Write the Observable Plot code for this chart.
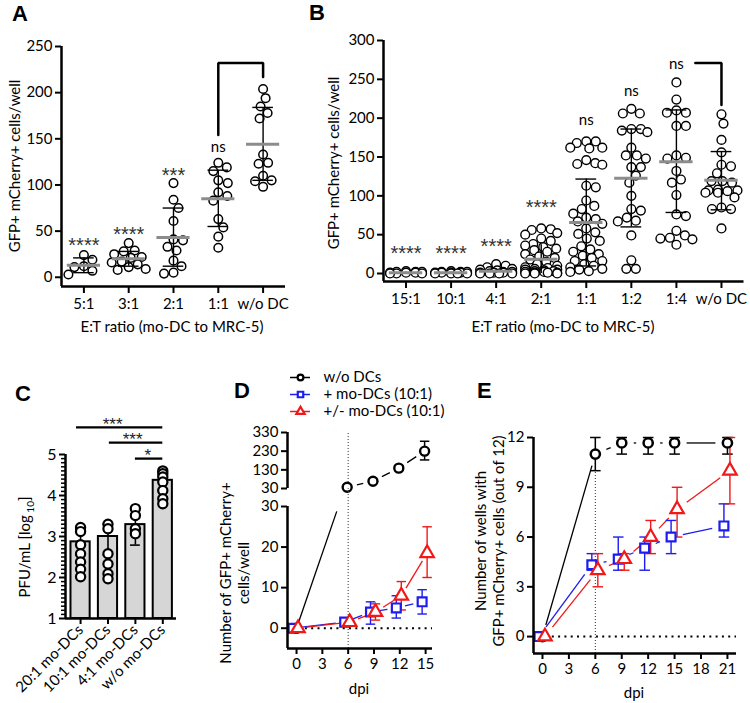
<!DOCTYPE html>
<html><head><meta charset="utf-8">
<script src="https://cdn.jsdelivr.net/npm/d3@7"></script>
<script src="https://cdn.jsdelivr.net/npm/@observablehq/plot@0.6"></script>
<style>
body{margin:0;background:#fff;}
#root{position:relative;width:750px;height:703px;overflow:hidden;font-family:Lato,"Open Sans",sans-serif;color:#000;}
.letter{position:absolute;font-family:"Liberation Sans",Arial,sans-serif;font-weight:bold;font-size:22px;line-height:22px;}
.lab{position:absolute;white-space:nowrap;font-size:15px;line-height:18px;text-align:center;transform:translate(-50%,-50%);}
.rot{transform:translate(-50%,-50%) rotate(-90deg);}
</style></head><body><div id="root"></div>
<script>
// ---------- DATA ----------
// Panel A
const catsA = ["5:1","3:1","2:1","1:1","w/o DC"];
const a5to1 = [24,19,12,11,3,7];
const a3to1 = [37,29,28,25,22,21,17,16,14,11,9,8];
const a2to1 = [102,84,75,61,41,40,33,29,18,12,5,4];
const a1to1 = [124,119,115,105,102,92,88,83,63,54,44,32];
const aNoDC = [204,194,185,178,172,133,124,123,110,105,104,98];
const meanA = [13,20,43,85,144];
const sdLoA = [5,12,12,55,105];
const sdHiA = [21,28,75,116,184];
const sigTextA = ["****","****","***","ns"];
const sigYA = [41,53,117,141];
const bracketXA = [3,3,4,4];
const bracketYA = [154,232,232,217];
const ticksA = [0,50,100,150,200,250];

// Panel B
const catsB = ["15:1","10:1","4:1","2:1","1:1","1:2","1:4","w/o DC"];
const b15to1 = [0,1,2,3,1,2,0,1,0,2];
const b10to1 = [0,1,2,1,0,2,1,3,0,1,0,2];
const b4to1 = [12,10,8,6,5,4,3,2,2,1,1,1,0,0,0,0];
const b2to1 = [58,57,56,52,50,45,42,38,36,34,32,30,28,25,22,20,18,15,12,10,8,6,5,4,3,2,1,0,0,1,2,3,5,7,0,1];
const b1to1 = [170,168,170,162,161,162,146,141,140,142,113,111,94,83,87,77,72,67,64,51,53,42,31,23,25,16,12,16,8,3,2,6,35,28,20,10,5,45,58,70];
const b1to2 = [206,206,212,186,182,186,184,162,152,152,148,137,137,126,117,100,83,81,72,68,67,49,17,6,6];
const b1to4 = [246,224,207,210,207,190,190,152,148,149,132,121,117,101,74,76,45,55,49,37,46,44];
const bNoDC = [205,193,172,156,140,138,129,117,119,119,107,107,104,108,98,104,83,83,85,58,106];
const meanB = [1,1,3,18.5,65.7,122.5,144,120];
const sdLoB = [0,0,0,0,9.7,60,78.6,82];
const sdHiB = [2,2,6,37,121.6,186,210.6,157];
const sigTextB = ["****","****","****","****","ns","ns","ns"];
const sigYB = [33,33,42,92,197,235,270];
const bracketXB = [6.42,7,7];
const bracketYB = [271,271,217];
const ticksB = [0,50,100,150,200,250,300];

// Panel C
const catsC = ["20:1 mo-DCs","10:1 mo-DCs","4:1 mo-DCs","w/o mo-DCs"];
const c20to1 = [3.22,3.12,2.8,2.58,2.38,2.2,2.02];
const c10to1 = [3.3,3.19,2.58,2.33,2.09,1.97];
const c4to1 = [3.68,3.51,3.19,3.07];
const cNoDC = [4.6,4.53,4.45,4.33,4.12,3.92,3.8];
const meanC = [2.87,3.0,3.29,4.37];
const sdLoC = [2.55,2.55,2.79,4.12];
const sdHiC = [3.18,3.3,3.68,4.58];
const sigFromC = [-0.15,1.05,2];
const sigToC = [3,3,3];
const sigLineYC = [5.66,5.29,4.9];
const sigTextC = ["***","***","*"];
const sigTextXC = [1.17,1.9,2.45];
const ticksC = [1,2,3,4,5];

// Panel D
const dpiD = [0,6,9,12,15];
const dNoMean = [0,37,69,139,230], dNoLo = [0,33,64,126,183], dNoHi = [0,41,74,152,283];
const dPlusMean = [0,1.5,4,5,6.5], dPlusLo = [0,1,1,2.5,3.5], dPlusHi = [0,2,6.5,8,9.5];
const dPmMean = [0,1.5,4,8,18.5], dPmLo = [0,1,2,4.5,12.5], dPmHi = [0,2,6,11.5,25];
const ticksDUpper = [30,130,230,330];
const ticksDLower = [0,10,20,30];
const ticksDX = [0,3,6,9,12,15];

// Panel E
const dpiE = [0,6,9,12,15,21];
const eNoMean = [0,11,11.67,11.67,11.67,11.67], eNoLo = [0,10,11,11,11,11], eNoHi = [0,12,12,12,12,12];
const ePlusMean = [0,4.33,4.67,5.33,6,6.67], ePlusLo = [0,4,4,4,5,6], ePlusHi = [0,5,6,6,7,8];
const ePmMean = [0,4,4.67,6,7.67,10], ePmLo = [0,3,4,5,6,8], ePmHi = [0,5,5,7,9,12];
const ticksEY = [0,3,6,9,12];
const ticksEX = [0,3,6,9,12,15,18,21];

// Legend
const legendLabels = ["w/o DCs","+ mo-DCs (10:1)","+/- mo-DCs (10:1)"];
const legendColors = ["#000000","#1c1cf0","#f01818"];
const legendSymbols = ["circle","square","triangle"];

// ---------- HELPERS ----------
const FONT = "Lato, 'Open Sans', sans-serif";
const STARFONT = "'Liberation Sans', Arial, sans-serif";
const FS = 15;
const root = document.getElementById("root");
const BLUE = legendColors[1], RED = legendColors[2];

function place(left, top, opts) {
  const svg = Plot.plot({...opts, style: {background: "transparent", overflow: "visible", fontFamily: FONT, fontSize: FS + "px", maxWidth: "none"}});
  svg.style.position = "absolute"; svg.style.left = left + "px"; svg.style.top = top + "px";
  root.appendChild(svg);
  return svg;
}
function html(cls, left, top, inner) {
  const d = document.createElement("div");
  d.className = cls; d.style.left = left + "px"; d.style.top = top + "px"; d.innerHTML = inner;
  root.appendChild(d);
}
function lin(domain, range) { return Plot.scale({x: {type: "linear", domain, range}}); }

// beeswarm layout: returns points with x in category units
function swarm(vals, ci, yPx, xPx, sep, cap) {
  const placed = [], out = [];
  const order = vals.map((v, i) => i).sort((a, b) => vals[b] - vals[a]);
  const cands = [0];
  for (let o = 0.5; o <= cap; o += 0.5) cands.push(o, -o);
  for (const i of order) {
    const py = vals[i] * yPx;
    let best = 0, bestScore = Infinity;
    for (const o of cands) {
      let pen = 0;
      for (const p of placed) {
        const d = Math.hypot(p.ox - o, p.py - py);
        if (d < sep) pen += sep - d;
      }
      const score = pen * 10 + Math.abs(o) * 0.3;
      if (score < bestScore) { bestScore = score; best = o; }
    }
    placed.push({ox: best, py});
    out.push({x: ci + best / xPx, y: vals[i]});
  }
  return out;
}

// shortened connecting segments (gap around markers)
function segs(xs, ys, sx, sy, gap) {
  const out = [];
  for (let i = 0; i < xs.length - 1; i++) {
    const x1 = sx.apply(xs[i]), y1 = sy.apply(ys[i]), x2 = sx.apply(xs[i + 1]), y2 = sy.apply(ys[i + 1]);
    const L = Math.hypot(x2 - x1, y2 - y1);
    if (L <= 2 * gap) continue;
    const ux = (x2 - x1) / L, uy = (y2 - y1) / L;
    out.push({x1: sx.invert(x1 + ux * gap), y1: sy.invert(y1 + uy * gap), x2: sx.invert(x2 - ux * gap), y2: sy.invert(y2 - uy * gap)});
  }
  return out;
}
// cut a segment where it reaches yMax (broken axis)
function cutAt(seg, yMax) {
  return seg.map(s => {
    if (s.y2 <= yMax) return s;
    const t = (yMax - s.y1) / (s.y2 - s.y1);
    return {x1: s.x1, y1: s.y1, x2: s.x1 + t * (s.x2 - s.x1), y2: yMax};
  });
}
function errs(xs, lo, hi, w) {
  const bars = [], caps = [];
  xs.forEach((x, i) => {
    if (hi[i] > lo[i]) {
      bars.push({x, y1: lo[i], y2: hi[i]});
      caps.push({x1: x - w, x2: x + w, y: lo[i]}, {x1: x - w, x2: x + w, y: hi[i]});
    }
  });
  return {bars, caps};
}
function errMarks(e, color, dx, sw) {
  return [
    Plot.link(e.bars, {x1: "x", x2: "x", y1: "y1", y2: "y2", stroke: color, strokeWidth: sw, dx}),
    Plot.link(e.caps, {x1: "x1", x2: "x2", y1: "y", y2: "y", stroke: color, strokeWidth: sw, dx})
  ];
}
function sigMarks(texts, ys) {
  const stars = [], ns = [];
  texts.forEach((t, i) => (t === "ns" ? ns : stars).push({x: i, y: ys[i], t}));
  return [
    Plot.text(stars, {x: "x", y: "y", text: "t", fontSize: 20, fontFamily: STARFONT, dy: 6, fill: "#333"}),
    Plot.text(ns, {x: "x", y: "y", text: "t", fontSize: FS, fill: "#000"})
  ];
}
const fmtInt = d => String(d);

// ---------- PANEL A ----------
{
  const W = 290, H = 345, mL = 61, mR = 5, mT = 46, mB = H - 286;
  const xDom = [-0.5, 4.5], yDom = [-10, 250];
  const xPx = (W - mL - mR) / 5, yPx = (H - mB - mT) / 260;
  const groups = [a5to1, a3to1, a2to1, a1to1, aNoDC];
  const pts = groups.flatMap((g, i) => swarm(g, i, yPx, xPx, 9.5, 17));
  const idx = d3.range(5);
  place(0, 0, {
    width: W, height: H, marginLeft: mL, marginRight: mR, marginTop: mT, marginBottom: mB,
    x: {domain: xDom}, y: {domain: yDom},
    marks: [
      Plot.dot(pts, {x: "x", y: "y", r: 4.3, stroke: "black", strokeWidth: 1.5, fill: "white"}),
      Plot.ruleX(idx, {x: d => d, y1: i => sdLoA[i], y2: i => sdHiA[i], strokeWidth: 1.4}),
      Plot.ruleY(idx, {x1: i => i - 0.23, x2: i => i + 0.23, y: i => sdLoA[i], strokeWidth: 1.4}),
      Plot.ruleY(idx, {x1: i => i - 0.23, x2: i => i + 0.23, y: i => sdHiA[i], strokeWidth: 1.4}),
      Plot.ruleY(idx, {x1: i => i - 0.37, x2: i => i + 0.37, y: i => meanA[i], stroke: "#8c8c8c", strokeWidth: 3}),
      ...sigMarks(sigTextA, sigYA),
      Plot.line(bracketXA.map((x, i) => ({x, y: bracketYA[i]})), {x: "x", y: "y", strokeWidth: 2.5, strokeLinejoin: "miter"}),
      Plot.ruleX([xDom[0]], {y1: yDom[0], y2: yDom[1], strokeWidth: 2.5}),
      Plot.ruleY([yDom[0]], {x1: xDom[0], x2: xDom[1], strokeWidth: 2.5}),
      Plot.axisY({ticks: ticksA, tickFormat: fmtInt, tickSize: 6, strokeWidth: 2, tickPadding: 3, fontSize: FS, label: null}),
      Plot.axisX({ticks: idx, tickFormat: i => catsA[i], tickSize: 7, strokeWidth: 2, tickPadding: 5, fontSize: FS, label: null})
    ]
  });
}

// ---------- PANEL B ----------
{
  const L0 = 280, W = 470, H = 345, mL = 103, mR = 6.5, mT = 40, mB = H - 281;
  const xDom = [-0.5, 7.5], yDom = [-10.3, 300];
  const xPx = (W - mL - mR) / 8, yPx = (H - mB - mT) / (yDom[1] - yDom[0]);
  const groups = [b15to1, b10to1, b4to1, b2to1, b1to1, b1to2, b1to4, bNoDC];
  const pts = groups.flatMap((g, i) => swarm(g, i, yPx, xPx, 9.5, 16));
  const idx = d3.range(8);
  place(L0, 0, {
    width: W, height: H, marginLeft: mL, marginRight: mR, marginTop: mT, marginBottom: mB,
    x: {domain: xDom}, y: {domain: yDom},
    marks: [
      Plot.dot(pts, {x: "x", y: "y", r: 4.4, stroke: "black", strokeWidth: 1.4, fill: "white"}),
      Plot.ruleX(idx, {x: d => d, y1: i => sdLoB[i], y2: i => sdHiB[i], strokeWidth: 1.4}),
      Plot.ruleY(idx.filter(i => i > 3), {x1: i => i - 0.23, x2: i => i + 0.23, y: i => sdLoB[i], strokeWidth: 1.4}),
      Plot.ruleY(idx.filter(i => i > 3), {x1: i => i - 0.23, x2: i => i + 0.23, y: i => sdHiB[i], strokeWidth: 1.4}),
      Plot.ruleY(idx, {x1: i => i - 0.37, x2: i => i + 0.37, y: i => meanB[i], stroke: "#8c8c8c", strokeWidth: 3}),
      ...sigMarks(sigTextB, sigYB),
      Plot.line(bracketXB.map((x, i) => ({x, y: bracketYB[i]})), {x: "x", y: "y", strokeWidth: 2.5, strokeLinejoin: "miter"}),
      Plot.ruleX([xDom[0]], {y1: yDom[0], y2: yDom[1], strokeWidth: 2.5}),
      Plot.ruleY([yDom[0]], {x1: xDom[0], x2: xDom[1], strokeWidth: 2.5}),
      Plot.axisY({ticks: ticksB, tickFormat: fmtInt, tickSize: 6, strokeWidth: 2, tickPadding: 3, fontSize: FS, label: null}),
      Plot.axisX({ticks: idx, tickFormat: i => catsB[i], tickSize: 7, strokeWidth: 2, tickPadding: 5, fontSize: FS, label: null})
    ]
  });
}

// ---------- PANEL C ----------
{
  const T0 = 380, W = 200, H = 323, mL = 65, mR = 24, mT = 454 - T0, mB = T0 + H - 618;
  const xDom = [-0.55, 3.5], yDom = [1, 5];
  const groups = [c20to1, c10to1, c4to1, cNoDC];
  const pts = groups.flatMap((g, i) => g.map(v => ({x: i, y: v})));
  const idx = d3.range(4);
  const minor = d3.range(11, 50).map(v => v / 10).filter(v => Math.abs(v - Math.round(v)) > 1e-6);
  place(0, T0, {
    width: W, height: H, marginLeft: mL, marginRight: mR, marginTop: mT, marginBottom: mB,
    x: {domain: xDom}, y: {domain: yDom},
    marks: [
      Plot.rect(idx, {x1: i => i - 0.35, x2: i => i + 0.35, y1: 1, y2: i => meanC[i], fill: "#d6d6d6", stroke: "black", strokeWidth: 2}),
      Plot.ruleX(idx, {x: d => d, y1: i => sdLoC[i], y2: i => sdHiC[i], strokeWidth: 1.6}),
      Plot.ruleY(idx, {x1: i => i - 0.18, x2: i => i + 0.18, y: i => sdLoC[i], strokeWidth: 1.6}),
      Plot.ruleY(idx, {x1: i => i - 0.18, x2: i => i + 0.18, y: i => sdHiC[i], strokeWidth: 1.6}),
      Plot.dot(pts, {x: "x", y: "y", r: 4.6, stroke: "black", strokeWidth: 2.2, fill: "white"}),
      Plot.ruleY(sigLineYC, {x1: (d, i) => sigFromC[i], x2: (d, i) => sigToC[i], y: d => d, strokeWidth: 2.3}),
      Plot.text(sigTextC, {x: (d, i) => sigTextXC[i], y: (d, i) => sigLineYC[i], text: d => d, fontSize: 17, fontFamily: STARFONT, dy: -3, fill: "#222"}),
      Plot.ruleX([xDom[0]], {y1: yDom[0], y2: yDom[1], strokeWidth: 2.5}),
      Plot.ruleY([yDom[0]], {x1: xDom[0], x2: xDom[1], strokeWidth: 2.5}),
      Plot.axisY({ticks: minor, tickSize: 4, strokeWidth: 1.5, tickFormat: () => "", label: null}),
      Plot.axisY({ticks: ticksC, tickFormat: fmtInt, tickSize: 6, strokeWidth: 2, tickPadding: 3, fontSize: 16, label: null}),
      Plot.axisX({ticks: idx, tickFormat: i => catsC[i], tickSize: 6, strokeWidth: 2, tickPadding: 3, tickRotate: -45, fontSize: FS, label: null})
    ]
  });
}

// ---------- PANEL D ----------
{
  const L0 = 240, W = 200, mL = 47, mR = 8;
  const xDom = [-1.05, 15.8];
  const sx = lin(xDom, [mL, W - mR]);
  const DXB = -3.5, DXR = 1.5;
  // upper segment
  {
    const T0 = 423, H = 70, mT = 9, mB = 5;
    const yDom = [30, 330];
    const sy = lin(yDom, [H - mB, mT]);
    const xs = dpiD.slice(1), ys = dNoMean.slice(1);
    place(L0, T0, {
      width: W, height: H, marginLeft: mL, marginRight: mR, marginTop: mT, marginBottom: mB,
      x: {domain: xDom, axis: null}, y: {domain: yDom},
      marks: [
        Plot.ruleX([6], {y1: 30, y2: 330, stroke: "#333", strokeWidth: 1, strokeDasharray: "1,2"}),
        Plot.link(segs(xs, ys, sx, sy, 10), {x1: "x1", y1: "y1", x2: "x2", y2: "y2", stroke: "black", strokeWidth: 1.3, dx: -1}),
        ...errMarks(errs(xs, dNoLo.slice(1), dNoHi.slice(1), 0.55), "black", -1, 1.5),
        Plot.dot(xs.map((x, i) => ({x, y: ys[i]})), {x: "x", y: "y", r: 4.5, stroke: "black", strokeWidth: 2.4, fill: "white", dx: -1}),
        Plot.ruleX([xDom[0]], {y1: yDom[0], y2: yDom[1], strokeWidth: 2.5}),
        Plot.axisY({ticks: ticksDUpper, tickFormat: fmtInt, tickSize: 6, strokeWidth: 2, tickPadding: 3, fontSize: FS, label: null})
      ]
    });
  }
  // lower segment
  {
    const T0 = 495, H = 205, mT = 11, mB = 52;
    const yDom = [-5, 30];
    const sy = lin(yDom, [H - mB, mT]);
    const blackSeg = cutAt(segs(dpiD.slice(0, 2), dNoMean.slice(0, 2), sx, sy, 6), 28.8);
    place(L0, T0, {
      width: W, height: H, marginLeft: mL, marginRight: mR, marginTop: mT, marginBottom: mB,
      x: {domain: xDom}, y: {domain: yDom},
      marks: [
        Plot.ruleX([6], {y1: -5, y2: 34.4, stroke: "#333", strokeWidth: 1, strokeDasharray: "1,2"}),
        Plot.ruleY([0], {x1: 0.3, x2: xDom[1], stroke: "black", strokeWidth: 2, strokeDasharray: "2,4.3"}),
        Plot.link(blackSeg, {x1: "x1", y1: "y1", x2: "x2", y2: "y2", stroke: "black", strokeWidth: 1.3}),
        Plot.link(segs(dpiD, dPlusMean, sx, sy, 9), {x1: "x1", y1: "y1", x2: "x2", y2: "y2", stroke: BLUE, strokeWidth: 1.3, dx: DXB}),
        Plot.link(segs(dpiD, dPmMean, sx, sy, 9), {x1: "x1", y1: "y1", x2: "x2", y2: "y2", stroke: RED, strokeWidth: 1.3, dx: DXR}),
        ...errMarks(errs(dpiD, dPlusLo, dPlusHi, 0.55), BLUE, DXB, 1.4),
        ...errMarks(errs(dpiD, dPmLo, dPmHi, 0.55), RED, DXR, 1.4),
        Plot.dot([{x: dpiD[0], y: dNoMean[0]}], {x: "x", y: "y", r: 4.5, stroke: "black", strokeWidth: 2.4, fill: "white"}),
        Plot.dot(dpiD.map((x, i) => ({x, y: dPlusMean[i]})), {x: "x", y: "y", symbol: "square", r: 5, stroke: BLUE, strokeWidth: 2.2, fill: "white", dx: DXB}),
        Plot.dot(dpiD.map((x, i) => ({x, y: dPmMean[i]})), {x: "x", y: "y", symbol: "triangle", r: 5, stroke: RED, strokeWidth: 2.2, fill: "white", dx: DXR}),
        Plot.ruleX([xDom[0]], {y1: yDom[0], y2: yDom[1], strokeWidth: 2.5}),
        Plot.ruleY([yDom[0]], {x1: xDom[0], x2: xDom[1], strokeWidth: 2.5}),
        Plot.axisY({ticks: ticksDLower, tickFormat: fmtInt, tickSize: 6, strokeWidth: 2, tickPadding: 3, fontSize: FS, label: null}),
        Plot.axisX({ticks: ticksDX, tickFormat: fmtInt, tickSize: 6, strokeWidth: 2, tickPadding: 4, fontSize: FS, label: null})
      ]
    });
  }
}

// ---------- PANEL E ----------
{
  const L0 = 500, T0 = 420, W = 250, H = 280, mL = 33, mR = 14, mT = 17, mB = 47;
  const xDom = [-1.02, 22.03], yDom = [-1.02, 12];
  const sx = lin(xDom, [mL, W - mR]), sy = lin(yDom, [H - mB, mT]);
  const DXB = -3.5, DXR = 2.5;
  place(L0, T0, {
    width: W, height: H, marginLeft: mL, marginRight: mR, marginTop: mT, marginBottom: mB,
    x: {domain: xDom}, y: {domain: yDom},
    marks: [
      Plot.ruleX([6], {y1: yDom[0], y2: 12, stroke: "#333", strokeWidth: 1, strokeDasharray: "1,2"}),
      Plot.ruleY([0], {x1: 0.4, x2: xDom[1], stroke: "black", strokeWidth: 2, strokeDasharray: "2,4.3"}),
      Plot.link(segs(dpiE, eNoMean, sx, sy, 12), {x1: "x1", y1: "y1", x2: "x2", y2: "y2", stroke: "black", strokeWidth: 1.3}),
      Plot.link(segs(dpiE, ePlusMean, sx, sy, 12), {x1: "x1", y1: "y1", x2: "x2", y2: "y2", stroke: BLUE, strokeWidth: 1.3, dx: DXB}),
      Plot.link(segs(dpiE, ePmMean, sx, sy, 12), {x1: "x1", y1: "y1", x2: "x2", y2: "y2", stroke: RED, strokeWidth: 1.3, dx: DXR}),
      ...errMarks(errs(dpiE, eNoLo, eNoHi, 0.6), "black", 0, 1.5),
      ...errMarks(errs(dpiE, ePlusLo, ePlusHi, 0.6), BLUE, DXB, 1.4),
      ...errMarks(errs(dpiE, ePmLo, ePmHi, 0.6), RED, DXR, 1.4),
      Plot.dot(dpiE.map((x, i) => ({x, y: eNoMean[i]})), {x: "x", y: "y", r: 4.6, stroke: "black", strokeWidth: 2.5, fill: "white"}),
      Plot.dot(dpiE.map((x, i) => ({x, y: ePlusMean[i]})), {x: "x", y: "y", symbol: "square", r: 5, stroke: BLUE, strokeWidth: 2.2, fill: "white", dx: DXB}),
      Plot.dot(dpiE.map((x, i) => ({x, y: ePmMean[i]})), {x: "x", y: "y", symbol: "triangle", r: 5, stroke: RED, strokeWidth: 2.2, fill: "white", dx: DXR}),
      Plot.ruleX([xDom[0]], {y1: yDom[0], y2: yDom[1], strokeWidth: 2.5}),
      Plot.ruleY([yDom[0]], {x1: xDom[0], x2: xDom[1], strokeWidth: 2.5}),
      Plot.axisY({ticks: ticksEY, tickFormat: fmtInt, tickSize: 6, strokeWidth: 2, tickPadding: 3, fontSize: FS, label: null}),
      Plot.axisX({ticks: ticksEX, tickFormat: fmtInt, tickSize: 6, strokeWidth: 2, tickPadding: 4, fontSize: FS, label: null})
    ]
  });
}

// ---------- LEGEND (panel D) ----------
{
  const rows = d3.range(3);
  place(285, 369, {
    width: 160, height: 52, marginLeft: 5, marginRight: 5, marginTop: 8, marginBottom: 10,
    x: {domain: [0, 150], axis: null}, y: {domain: [0, 2], reverse: true, axis: null},
    marks: [
      Plot.ruleY(rows, {y: d => d, x1: 0, x2: 20, stroke: i => legendColors[i], strokeWidth: 1.5}),
      Plot.dot(rows, {x: 10, y: d => d, symbol: i => legendSymbols[i], stroke: i => legendColors[i], r: i => i === 0 ? 4.5 : 5, strokeWidth: 2.2, fill: "white"}),
      Plot.text(rows, {x: 33, y: d => d, text: i => legendLabels[i], textAnchor: "start", fontSize: FS})
    ]
  });
}

// ---------- TEXT LABELS ----------
html("letter", 12, 3, "A");
html("letter", 309, 2, "B");
html("letter", 15, 383, "C");
html("letter", 234, 380, "D");
html("letter", 477, 380, "E");
html("lab rot", 14, 166, "GFP+ mCherry+ cells/well");
html("lab", 172, 326, "E:T ratio (mo-DC to MRC-5)");
html("lab rot", 333, 163, "GFP+ mCherry+ cells/well");
html("lab", 563, 326, "E:T ratio (mo-DC to MRC-5)");
html("lab rot", 27, 547, "PFU/mL [log<sub style='font-size:10px'> 10</sub>]");
html("lab rot", 234, 573, "Number of GFP+ mCherry+<br>cells/well");
html("lab", 359, 688, "dpi");
html("lab rot", 489, 541, "Number of wells with<br>GFP+ mCherry+ cells (out of 12)");
html("lab", 634, 692, "dpi");
</script></body></html>
